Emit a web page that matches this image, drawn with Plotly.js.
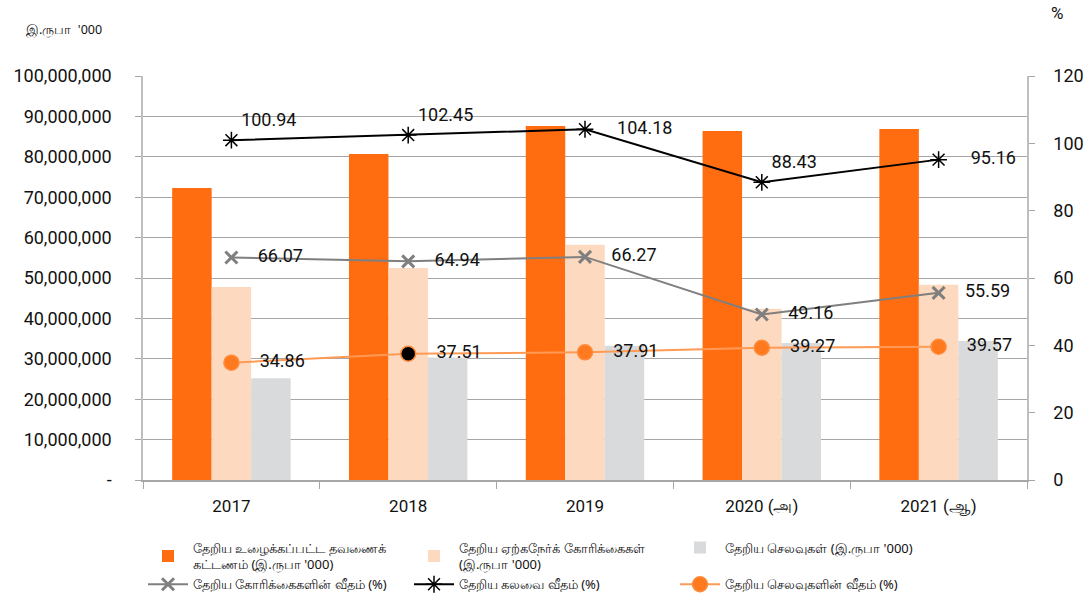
<!DOCTYPE html>
<html>
<head>
<meta charset="utf-8">
<script src="https://cdn.plot.ly/plotly-3.0.1.min.js"></script>
<style>html,body{margin:0;padding:0;background:#fff;}#chart{width:1086px;height:595px;}</style>
</head>
<body>
<div id="chart"></div>
<script>
const categories = ["2017", "2018", "2019", "2020 (அ)", "2021 (ஆ)"];
const insuredValue = [72300000, 80700000, 87600000, 86400000, 86900000];
const claimsAccepted = [47800000, 52500000, 58200000, 42400000, 48300000];
const expenses = [25200000, 30300000, 33200000, 33900000, 34400000];
const claimsRatio = [66.07, 64.94, 66.27, 49.16, 55.59];
const combinedRatio = [100.94, 102.45, 104.18, 88.43, 95.16];
const expenseRatio = [34.86, 37.51, 37.91, 39.27, 39.57];
const leftTickVals = [0, 10000000, 20000000, 30000000, 40000000, 50000000, 60000000, 70000000, 80000000, 90000000, 100000000];
const leftTickText = ["-", "10,000,000", "20,000,000", "30,000,000", "40,000,000", "50,000,000", "60,000,000", "70,000,000", "80,000,000", "90,000,000", "100,000,000"];
const names = [
  "தேறிய உழைக்கப்பட்ட தவணைக்<br>கட்டணம் (இ.ருபா '000)",
  "தேறிய ஏற்கநேர்க் கோரிக்கைகள்<br>(இ.ருபா '000)",
  "தேறிய செலவுகள் (இ.ருபா '000)",
  "தேறிய கோரிக்கைகளின் வீதம் (%)",
  "தேறிய கலவை வீதம் (%)",
  "தேறிய செலவுகளின் வீதம் (%)"
];

const numFont = {family: "Roboto, 'DejaVu Sans', sans-serif", size: 18, color: "#111"};
const traces = [
  {type: "bar", x: categories, y: insuredValue, name: names[0], marker: {color: "#FF6D10"}, hoverinfo: "y"},
  {type: "bar", x: categories, y: claimsAccepted, name: names[1], marker: {color: "#FDD9BF"}, hoverinfo: "y"},
  {type: "bar", x: categories, y: expenses, name: names[2], marker: {color: "#D9DADB"}, hoverinfo: "y"},
  {type: "scatter", mode: "lines+markers+text", x: categories, y: claimsRatio, yaxis: "y2", name: names[3],
   line: {color: "#7F7F7F", width: 2}, marker: {symbol: "x-thin-open", size: 12, color: "#7F7F7F", line: {width: 3, color: "#7F7F7F"}},
   text: claimsRatio.map(v => v.toFixed(2)), texttemplate: "    %{text}", textposition: "middle right", textfont: numFont},
  {type: "scatter", mode: "lines+markers+text", x: categories, y: combinedRatio, yaxis: "y2", name: names[4],
   line: {color: "#000000", width: 2}, marker: {symbol: "asterisk-open", size: 14, color: "#000", line: {width: 1.5, color: "#000"}},
   text: combinedRatio.map(v => v.toFixed(2)),
   texttemplate: ["%{text}", "%{text}", "     %{text}", "%{text}", "     %{text}"],
   textposition: ["top right", "top right", "middle right", "top right", "middle right"], textfont: numFont},
  {type: "scatter", mode: "lines+markers+text", x: categories, y: expenseRatio, yaxis: "y2", name: names[5],
   line: {color: "#FF9A55", width: 2}, marker: {symbol: "circle", size: 15, color: ["#FF7A1F", "#000000", "#FF7A1F", "#FF7A1F", "#FF7A1F"], line: {width: 1.5, color: "#FF8C3C"}},
   text: expenseRatio.map(v => v.toFixed(2)), texttemplate: "    %{text}", textposition: "middle right", textfont: numFont}
];

const layout = {
  width: 1086, height: 595,
  margin: {l: 143, r: 59, t: 76, b: 115, autoexpand: false},
  paper_bgcolor: "#fff", plot_bgcolor: "#fff",
  font: {family: "'Noto Sans', 'DejaVu Sans', sans-serif", color: "#111"},
  barmode: "group", bargap: 0.33, bargroupgap: 0,
  showlegend: true,
  legend: {orientation: "h", x: 0.0, xanchor: "left", y: -0.13, yanchor: "top",
    font: {size: 13, color: "#111"}, entrywidth: 211, entrywidthmode: "pixels", tracegroupgap: 0, itemwidth: 40},
  xaxis: {type: "category", tickfont: {family: "Roboto, sans-serif", size: 17, color: "#111"}, showline: true, linecolor: "#A6A6A6", linewidth: 1.5,
    ticks: "outside", tickson: "boundaries", ticklen: 7, tickcolor: "#A6A6A6", ticklabelstandoff: 10, showgrid: false, fixedrange: true},
  yaxis: {range: [0, 100000000], tickvals: leftTickVals, ticktext: leftTickText, tickfont: {family: "Roboto, sans-serif", size: 18, color: "#111"},
    showgrid: true, gridcolor: "#A6A6A6", gridwidth: 1.2, showline: true, linecolor: "#BFBFBF", linewidth: 1.5,
    ticks: "outside", ticklen: 6, tickcolor: "#A6A6A6", ticklabelstandoff: 20, zeroline: false, fixedrange: true},
  yaxis2: {overlaying: "y", side: "right", range: [0, 120], tickvals: [0, 20, 40, 60, 80, 100, 120],
    tickfont: {family: "Roboto, sans-serif", size: 18, color: "#111"}, showgrid: false, showline: true, linecolor: "#BFBFBF", linewidth: 1.5,
    ticks: "outside", ticklen: 6, tickcolor: "#A6A6A6", ticklabelstandoff: 15, zeroline: false, fixedrange: true},
  annotations: [
    {text: "இ.ருபா  '000", xref: "paper", yref: "paper", x: -0.135, y: 1.115, xanchor: "left", yanchor: "middle", showarrow: false,
     font: {size: 12.5, color: "#111"}},
    {text: "%", xref: "paper", yref: "paper", x: 1.025, y: 1.155, xanchor: "left", yanchor: "middle", showarrow: false,
     font: {family: "Roboto, sans-serif", size: 17, color: "#111"}}
  ]
};
Plotly.newPlot("chart", traces, layout, {displayModeBar: false, responsive: false});
</script>
</body>
</html>
